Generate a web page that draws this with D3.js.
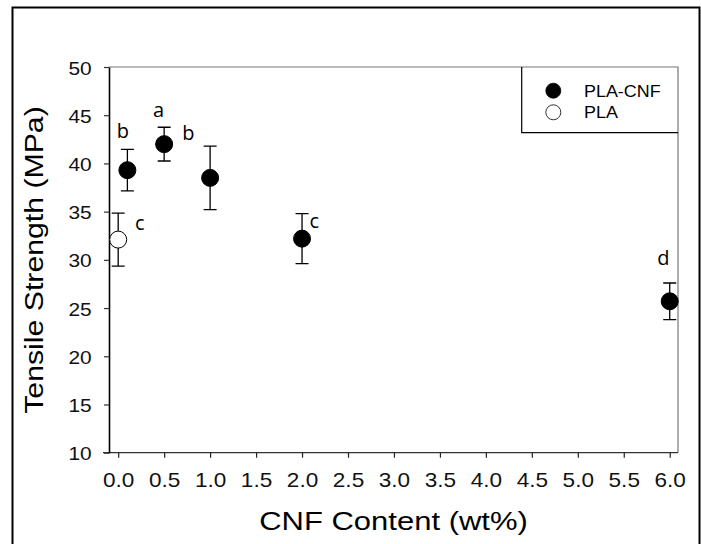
<!DOCTYPE html>
<html>
<head>
<meta charset="utf-8">
<script src="https://cdn.jsdelivr.net/npm/d3@7"></script>
<style>
  html, body { margin: 0; padding: 0; background: #fff; }
  svg { display: block; }
</style>
</head>
<body>
<svg id="chart" width="701" height="544"></svg>
<script>
// Tensile strength of PLA and PLA-CNF composites vs. CNF loading
const cnfContent     = [0.1, 0.5, 1.0, 2.0, 6.0];
const plaCnfStrength = [39.3, 42.0, 38.5, 32.2, 25.7];
const plaCnfError    = [2.15, 1.75, 3.3, 2.6, 1.9];
const plaCnfGroups   = ["b", "a", "b", "c", "d"];

const plaContent  = [0.0];
const plaStrength = [32.1];
const plaError    = [2.75];
const plaGroups   = ["c"];

const xTickValues = [0, 0.5, 1, 1.5, 2, 2.5, 3, 3.5, 4, 4.5, 5, 5.5, 6];
const yTickValues = [10, 15, 20, 25, 30, 35, 40, 45, 50];
const legendNames = ["PLA-CNF", "PLA"];

const svg = d3.select("#chart");
const plot = { left: 109, right: 678, top: 67, bottom: 452.7 };

const x = d3.scaleLinear().domain([-0.1, 6.09]).range([plot.left, plot.right]);
const y = d3.scaleLinear().domain([10, 50]).range([plot.bottom, plot.top]);

// outer figure border
svg.append("rect")
  .attr("x", 12.5).attr("y", 7.5)
  .attr("width", 687).attr("height", 560)
  .attr("fill", "none").attr("stroke", "#000").attr("stroke-width", 2);

// plot frame (top and right)
svg.append("path")
  .attr("d", `M${plot.left},${plot.top}H${plot.right}V${plot.bottom}`)
  .attr("fill", "none").attr("stroke", "#777").attr("stroke-width", 1.2);

const fontSans = "'Liberation Sans', Arial, sans-serif";

// x axis
const gx = svg.append("g")
  .attr("transform", `translate(0,${plot.bottom})`)
  .call(d3.axisBottom(x).tickValues(xTickValues).tickFormat(d3.format(".1f")).tickSize(5).tickSizeOuter(0));
gx.select(".domain").attr("stroke", "#333").attr("stroke-width", 1.2)
  .attr("d", `M${plot.left - 6},0H${plot.right}`);
gx.selectAll(".tick line").attr("stroke", "#222").attr("stroke-width", 1.2);
gx.selectAll(".tick text")
  .attr("y", null).attr("dy", null)
  .attr("transform", "translate(0,34) scale(1.13,1)")
  .attr("font-family", fontSans).attr("font-size", 20).attr("fill", "#111");

// y axis
const gy = svg.append("g")
  .attr("transform", `translate(${plot.left},0)`)
  .call(d3.axisLeft(y).tickValues(yTickValues).tickSize(5).tickSizeOuter(0));
gy.select(".domain").attr("stroke", "#000").attr("stroke-width", 1.6);
gy.selectAll(".tick line").attr("stroke", "#333").attr("stroke-width", 1.2);
gy.selectAll(".tick text")
  .attr("x", null).attr("dy", null)
  .attr("transform", "translate(-17.3,7) scale(1.13,1)")
  .attr("font-family", fontSans).attr("font-size", 18.5).attr("fill", "#111");

// axis titles
svg.append("text")
  .attr("transform", `translate(${(plot.left + plot.right) / 2},530) scale(1.24,1)`)
  .attr("text-anchor", "middle")
  .attr("font-family", fontSans).attr("font-size", 25).attr("fill", "#000")
  .text("CNF Content (wt%)");

svg.append("text")
  .attr("transform", "translate(43.3,260) rotate(-90) scale(1.21,1)")
  .attr("text-anchor", "middle")
  .attr("font-family", fontSans).attr("font-size", 25).attr("fill", "#000")
  .text("Tensile Strength (MPa)");

// build point records
const cnfPoints = cnfContent.map((c, i) => ({ c, v: plaCnfStrength[i], e: plaCnfError[i], g: plaCnfGroups[i], filled: true }));
const plaPoints = plaContent.map((c, i) => ({ c, v: plaStrength[i], e: plaError[i], g: plaGroups[i], filled: false }));
const allPoints = plaPoints.concat(cnfPoints);

// error bars
const capHalf = 6.5;
const eb = svg.append("g").attr("stroke", "#000").attr("stroke-width", 1.3).attr("fill", "none");
allPoints.forEach(p => {
  const px = x(p.c), hi = y(p.v + p.e), lo = y(p.v - p.e);
  eb.append("path").attr("d",
    `M${px},${hi}V${lo}M${px - capHalf},${hi}H${px + capHalf}M${px - capHalf},${lo}H${px + capHalf}`);
});

// markers
svg.append("g").selectAll("circle")
  .data(allPoints)
  .join("circle")
  .attr("cx", d => x(d.c)).attr("cy", d => y(d.v)).attr("r", 8.5)
  .attr("fill", d => d.filled ? "#000" : "#fff")
  .attr("stroke", "#000").attr("stroke-width", 1);

// significance group letters (offset from each marker)
const letterOffsets = new Map([
  ["PLA:0", [21.7, -9.3]],
  ["CNF:0", [-4.6, -31.7]],
  ["CNF:1", [-5.7, -27]],
  ["CNF:2", [-21.7, -38]],
  ["CNF:3", [12.3, -10.7]],
  ["CNF:4", [-6.3, -36.7]]
]);
const letterG = svg.append("g")
  .attr("font-family", "'Open Sans', sans-serif").attr("font-size", 20)
  .attr("text-anchor", "middle").attr("fill", "#000");
plaPoints.forEach((p, i) => {
  const [dx, dy] = letterOffsets.get("PLA:" + i);
  letterG.append("text").attr("x", x(p.c) + dx).attr("y", y(p.v) + dy).text(p.g);
});
cnfPoints.forEach((p, i) => {
  const [dx, dy] = letterOffsets.get("CNF:" + i);
  letterG.append("text").attr("x", x(p.c) + dx).attr("y", y(p.v) + dy).text(p.g);
});

// legend
const legend = svg.append("g");
legend.append("path")
  .attr("d", `M521.7,${plot.top}V132.7H${plot.right}`)
  .attr("fill", "none").attr("stroke", "#000").attr("stroke-width", 1.2);
legendNames.forEach((name, i) => {
  const ly = 90.7 + i * 21.6;
  legend.append("circle")
    .attr("cx", 553.3).attr("cy", ly).attr("r", 7.5)
    .attr("fill", i === 0 ? "#000" : "#fff")
    .attr("stroke", "#000").attr("stroke-width", 0.8);
  legend.append("text")
    .attr("transform", `translate(584,${ly + 6}) scale(1.12,1)`)
    .attr("font-family", fontSans).attr("font-size", 16).attr("fill", "#000")
    .text(name);
});
</script>
</body>
</html>
